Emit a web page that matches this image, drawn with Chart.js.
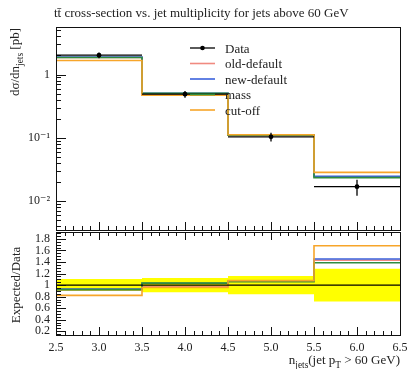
<!DOCTYPE html>
<html>
<head>
<meta charset="utf-8">
<script src="https://cdn.jsdelivr.net/npm/chart.js@4/dist/chart.umd.min.js"></script>
<style>
  html, body { margin: 0; padding: 0; background: #fff; }
  #wrap { position: relative; width: 409px; height: 369px; overflow: hidden; }
  canvas { position: absolute; left: 0; }
  #main { top: 0; }
  #ratio { top: 231px; }
</style>
</head>
<body>
<div id="wrap">
  <canvas id="main" width="409" height="234"></canvas>
  <canvas id="ratio" width="409" height="138"></canvas>
</div>
<script>
// bin edges in n_jets and measured cross-section per bin [pb]
const binEdges = [2.5, 3.5, 4.5, 5.5, 6.5];
const dataVals = [2.02, 0.49, 0.104, 0.017];
const dataErr = [0.21, 0.061, 0.0166, 0.0048];

// generator predictions per bin [pb]
const oldDefault = [1.86, 0.475, 0.111, 0.0243];
const newDefault = [1.88, 0.505, 0.111, 0.0247];
const massTune = [1.86, 0.507, 0.110, 0.0236];
const cutOff = [1.66, 0.47, 0.112, 0.0286];

const xTicks = [2.5, 3, 3.5, 4, 4.5, 5, 5.5, 6, 6.5];
const ratioTicks = [0.2, 0.4, 0.6, 0.8, 1, 1.2, 1.4, 1.6, 1.8];

const series = [
    { label: 'old-default', values: oldDefault, color: '#f08a80' },
    { label: 'new-default', values: newDefault, color: '#3b62dc' },
    { label: 'mass', values: massTune, color: '#2f8c3e' },
    { label: 'cut-off', values: cutOff, color: '#f7a52a' },
];

const SERIF = '"Liberation Serif", "DejaVu Serif", serif';
const INK = '#111';

// histogram outline: two points per bin so vertical edges come out on the bin borders
function histPoints(values) {
    const pts = [];
    values.forEach((v, i) => {
        pts.push({ x: binEdges[i], y: v });
        pts.push({ x: binEdges[i + 1], y: v });
    });
    return pts;
}

function stepLine(label, values, color, order, width) {
    return {
        label,
        data: histPoints(values),
        borderColor: color,
        borderWidth: width,
        pointRadius: 0,
        fill: false,
        tension: 0,
        order,
    };
}

// no extra room for half tick labels at the axis ends
function noEdgePadding(scale) {
    scale.paddingTop = 0;
    scale.paddingBottom = 0;
    scale.paddingLeft = 0;
    scale.paddingRight = 0;
}

// text with subscripts: parts = [[text, isSub], ...]
function drawRich(ctx, parts, x, y, align, size) {
    const fonts = parts.map(([, sub]) => `${sub ? size * 0.72 : size}px ${SERIF}`);
    let total = 0;
    const widths = parts.map(([t], i) => {
        ctx.font = fonts[i];
        const w = ctx.measureText(t).width;
        total += w;
        return w;
    });
    let cx = align === 'right' ? x - total : align === 'center' ? x - total / 2 : x;
    ctx.textAlign = 'left';
    ctx.textBaseline = 'alphabetic';
    parts.forEach(([t, sub], i) => {
        ctx.font = fonts[i];
        ctx.fillText(t, cx, sub ? y + size * 0.28 : y);
        cx += widths[i];
    });
}

// frame plus inward-pointing major/minor ticks
const frameTicks = {
    id: 'frameTicks',
    afterDatasetsDraw(chart, args, opts) {
        const { ctx, chartArea: a, scales } = chart;
        ctx.save();
        ctx.strokeStyle = INK;
        ctx.lineWidth = 1;
        ctx.beginPath();
        // x ticks every 0.1, major every 0.5
        for (let k = 25; k <= 65; k++) {
            const px = Math.round(scales.x.getPixelForValue(k / 10)) + 0.5;
            const len = k % 5 === 0 ? 8 : 4;
            if (opts.bottom) {
                ctx.moveTo(px, a.bottom);
                ctx.lineTo(px, a.bottom - len);
            }
            if (opts.top) {
                ctx.moveTo(px, a.top);
                ctx.lineTo(px, a.top + len);
            }
        }
        // y ticks
        for (const t of opts.yTicks) {
            const py = Math.round(scales.y.getPixelForValue(t.v)) + 0.5;
            if (py < a.top || py > a.bottom) continue;
            ctx.moveTo(a.left, py);
            ctx.lineTo(a.left + (t.major ? 10 : 5), py);
        }
        ctx.stroke();
        ctx.strokeRect(Math.round(a.left) + 0.5, Math.round(a.top) + 0.5,
            Math.round(a.right - a.left), Math.round(a.bottom - a.top));
        ctx.restore();
    },
};

// horizontal bin-width bars and vertical error bars for the data
const dataBars = {
    id: 'dataBars',
    afterDatasetsDraw(chart) {
        const { ctx, scales } = chart;
        ctx.save();
        ctx.strokeStyle = '#000';
        ctx.lineWidth = 1.3;
        ctx.beginPath();
        dataVals.forEach((v, i) => {
            const y = scales.y.getPixelForValue(v);
            const xc = scales.x.getPixelForValue((binEdges[i] + binEdges[i + 1]) / 2);
            ctx.moveTo(scales.x.getPixelForValue(binEdges[i]), y);
            ctx.lineTo(scales.x.getPixelForValue(binEdges[i + 1]), y);
            ctx.moveTo(xc, scales.y.getPixelForValue(v + dataErr[i]));
            ctx.lineTo(xc, scales.y.getPixelForValue(v - dataErr[i]));
        });
        ctx.stroke();
        ctx.restore();
    },
};

// title, axis label and legend of the upper panel
const mainDecor = {
    id: 'mainDecor',
    afterDraw(chart) {
        const { ctx } = chart;
        ctx.save();
        ctx.fillStyle = '#222';
        drawRich(ctx, [['tt\u0304 cross-section vs. jet multiplicity for jets above 60 GeV', false]], 54, 17, 'left', 13);

        ctx.save();
        ctx.translate(19, 0);
        ctx.rotate(-Math.PI / 2);
        drawRich(ctx, [['d\u03c3/dn', false], ['jets', true], [' [pb]', false]], -28, 0, 'right', 13);
        ctx.restore();

        // legend
        const lx0 = 190, lx1 = 215, tx = 225;
        const rows = [{ label: 'Data', color: '#000', dot: true }].concat(series);
        rows.forEach((r, i) => {
            const y = 48 + i * 15.5;
            ctx.strokeStyle = r.color;
            ctx.lineWidth = r.dot ? 1.3 : 1.6;
            ctx.beginPath();
            ctx.moveTo(lx0, y);
            ctx.lineTo(lx1, y);
            ctx.stroke();
            if (r.dot) {
                ctx.fillStyle = '#000';
                ctx.beginPath();
                ctx.arc((lx0 + lx1) / 2, y, 2.3, 0, Math.PI * 2);
                ctx.fill();
            }
            ctx.fillStyle = '#222';
            drawRich(ctx, [[r.label, false]], tx, y + 4.5, 'left', 13);
        });
        ctx.restore();
    },
};

const ratioDecor = {
    id: 'ratioDecor',
    afterDraw(chart) {
        const { ctx } = chart;
        ctx.save();
        ctx.fillStyle = '#222';
        ctx.save();
        ctx.translate(20, 54);
        ctx.rotate(-Math.PI / 2);
        drawRich(ctx, [['Expected/Data', false]], 0, 0, 'center', 13);
        ctx.restore();
        drawRich(ctx, [['n', false], ['jets', true], ['(jet p', false], ['T', true], [' > 60 GeV)', false]],
            400, 133, 'right', 13);
        ctx.restore();
    },
};

// log ticks for the upper panel
const logTicks = [];
for (let d = -3; d <= 0; d++) {
    for (let m = 1; m <= 9; m++) logTicks.push({ v: m * Math.pow(10, d), major: m === 1 });
}

const superDigits = { '-': '\u207b', '1': '\u00b9', '2': '\u00b2', '3': '\u00b3' };

new Chart(document.getElementById('main'), {
    type: 'line',
    data: {
        datasets: [
            {
                label: 'Data',
                data: dataVals.map((v, i) => ({ x: (binEdges[i] + binEdges[i + 1]) / 2, y: v })),
                showLine: false,
                pointRadius: 2.4,
                pointBackgroundColor: '#000',
                pointBorderWidth: 0,
                order: 0,
            },
            ...series.map((s, i) => stepLine(s.label, s.values, s.color, 4 - i, 1.6)),
        ],
    },
    options: {
        responsive: false,
        animation: false,
        layout: { padding: { left: 0, right: 9, top: 27, bottom: 2 } },
        plugins: {
            legend: { display: false },
            tooltip: { enabled: false },
            frameTicks: { bottom: true, top: false, yTicks: logTicks },
        },
        scales: {
            x: { type: 'linear', min: 2.5, max: 6.5, display: false },
            y: {
                type: 'logarithmic',
                min: 0.00352,
                max: 5.62,
                grid: { display: false, drawTicks: false },
                border: { display: false },
                afterBuildTicks(scale) {
                    scale.ticks = [{ value: 0.01 }, { value: 0.1 }, { value: 1 }];
                },
                afterFit(scale) {
                    scale.width = 56;
                    noEdgePadding(scale);
                },
                ticks: {
                    autoSkip: false,
                    padding: 6,
                    color: '#222',
                    font: { family: SERIF, size: 12 },
                    callback(v) {
                        const e = Math.round(Math.log10(v));
                        if (e === 0) return '1';
                        return '10' + String(e).split('').map(c => superDigits[c]).join('');
                    },
                },
            },
        },
    },
    plugins: [frameTicks, dataBars, mainDecor],
});

// ratio panel: data uncertainty band and predictions divided by data
const bandUp = dataVals.map((v, i) => 1 + dataErr[i] / v);
const bandDown = dataVals.map((v, i) => 1 - dataErr[i] / v);
const ratioTicksAll = [];
for (let k = 2; k <= 38; k++) ratioTicksAll.push({ v: k * 0.05, major: k % 4 === 0 });

new Chart(document.getElementById('ratio'), {
    type: 'line',
    data: {
        datasets: [
            stepLine('Data', dataVals.map(() => 1), '#000', 0, 1.3),
            ...series.map((s, i) => stepLine(s.label, s.values.map((v, j) => v / dataVals[j]), s.color, 4 - i, 1.6)),
            {
                label: 'band-up',
                data: histPoints(bandUp),
                borderWidth: 0,
                pointRadius: 0,
                fill: false,
                order: 10,
            },
            {
                label: 'band-down',
                data: histPoints(bandDown),
                borderWidth: 0,
                pointRadius: 0,
                backgroundColor: '#ffff00',
                fill: '-1',
                order: 9,
            },
        ],
    },
    options: {
        responsive: false,
        animation: false,
        layout: { padding: { left: 0, right: 9, top: 1, bottom: 0 } },
        plugins: {
            legend: { display: false },
            tooltip: { enabled: false },
            frameTicks: { bottom: true, top: true, yTicks: ratioTicksAll },
        },
        scales: {
            x: {
                type: 'linear',
                min: 2.5,
                max: 6.5,
                grid: { display: false, drawTicks: false },
                border: { display: false },
                afterBuildTicks(scale) { scale.ticks = xTicks.map(v => ({ value: v })); },
                afterFit(scale) {
                    scale.height = 34;
                    noEdgePadding(scale);
                },
                ticks: {
                    autoSkip: false,
                    maxRotation: 0,
                    padding: 6,
                    color: '#222',
                    font: { family: SERIF, size: 12 },
                },
            },
            y: {
                type: 'linear',
                min: 0.135,
                max: 1.92,
                grid: { display: false, drawTicks: false },
                border: { display: false },
                afterBuildTicks(scale) { scale.ticks = ratioTicks.map(v => ({ value: v })); },
                afterFit(scale) {
                    scale.width = 56;
                    noEdgePadding(scale);
                },
                ticks: {
                    autoSkip: false,
                    padding: 6,
                    color: '#222',
                    font: { family: SERIF, size: 12 },
                    callback: v => String(Math.round(v * 10) / 10),
                },
            },
        },
    },
    plugins: [frameTicks, ratioDecor],
});
</script>
</body>
</html>
